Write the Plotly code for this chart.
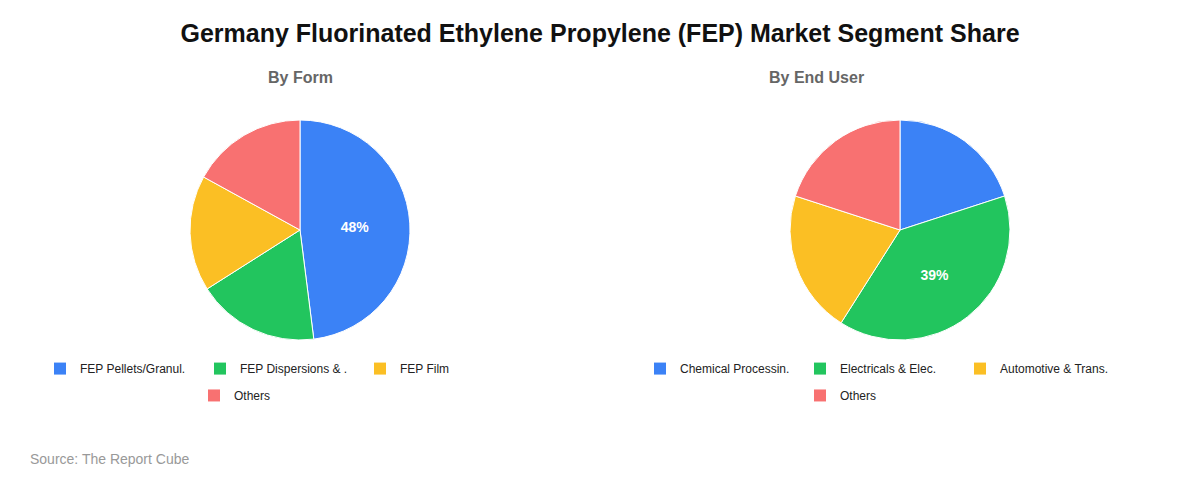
import plotly.graph_objects as go

# By Form
form_labels = ['FEP Pellets/Granul.', 'FEP Dispersions & .', 'FEP Film', 'Others']
form_values = [48, 18, 17, 17]
# By End User
user_labels = ['Chemical Processin.', 'Electricals & Elec.', 'Automotive & Trans.', 'Others']
user_values = [20, 39, 21, 20]

colors = ['#3b82f6', '#22c55e', '#fbbf24', '#f87171']


def show_max(values):
    m = max(values)
    return ['<b>%{percent:.0%}</b>' if v == m else '' for v in values]


fig = go.Figure()
fig.add_trace(go.Pie(labels=form_labels, values=form_values, sort=False, direction='clockwise',
                     rotation=0, marker=dict(colors=colors, line=dict(color='white', width=1)),
                     texttemplate=show_max(form_values), textposition='inside',
                     textfont=dict(color='white', size=14), showlegend=False,
                     domain=dict(x=[182 / 1200, 402 / 1200], y=[0.308, 0.767])))
fig.add_trace(go.Pie(labels=user_labels, values=user_values, sort=False, direction='clockwise',
                     rotation=0, marker=dict(colors=colors, line=dict(color='white', width=1)),
                     texttemplate=show_max(user_values), textposition='inside',
                     textfont=dict(color='white', size=14), showlegend=False,
                     domain=dict(x=[782 / 1200, 1002 / 1200], y=[0.308, 0.767])))

# legend entries (split so the 4th item wraps to a second row)
for labels, first, second in [(form_labels, 'legend', 'legend3'), (user_labels, 'legend2', 'legend4')]:
    for i, lab in enumerate(labels):
        fig.add_trace(go.Scatter(x=[None], y=[None], mode='markers', name=lab,
                                 marker=dict(symbol='square', size=15, color=colors[i]),
                                 legend=first if i < 3 else second))

leg = dict(orientation='h', yanchor='top', xanchor='left', entrywidth=115, entrywidthmode='pixels',
           font=dict(family='Arial', size=12, color='#222'), traceorder='normal',
           itemsizing='constant', bgcolor='rgba(0,0,0,0)', itemwidth=30)
fig.update_layout(
    width=1200, height=480, autosize=False,
    margin=dict(l=0, r=0, t=0, b=0, autoexpand=False),
    paper_bgcolor='white', plot_bgcolor='white', font=dict(family='Arial'),
    xaxis=dict(visible=False), yaxis=dict(visible=False),
    legend=dict(leg, x=32 / 1200, y=0.279),
    legend2=dict(leg, x=632 / 1200, y=0.279),
    legend3=dict(leg, x=186 / 1200, y=0.223),
    legend4=dict(leg, x=792 / 1200, y=0.223),
    title=dict(text='<b>Germany Fluorinated Ethylene Propylene (FEP) Market Segment Share</b>',
               x=592 / 1200, y=1 - 25 / 480, xanchor='center', yanchor='middle',
               font=dict(size=25, color='#111')),
    annotations=[
        dict(text='<b>By Form</b>', x=258 / 1200, y=1 - 59 / 480, xref='paper', yref='paper',
             showarrow=False, font=dict(size=16, color='#666')),
        dict(text='<b>By End User</b>', x=858 / 1200, y=1 - 59 / 480, xref='paper', yref='paper',
             showarrow=False, font=dict(size=16, color='#666')),
        dict(text='Source: The Report Cube', x=20 / 1200, y=1 - 461 / 480, xref='paper', yref='paper',
             xanchor='left', showarrow=False, font=dict(size=14, color='#999')),
    ],
)
fig.write_html("out.html")
